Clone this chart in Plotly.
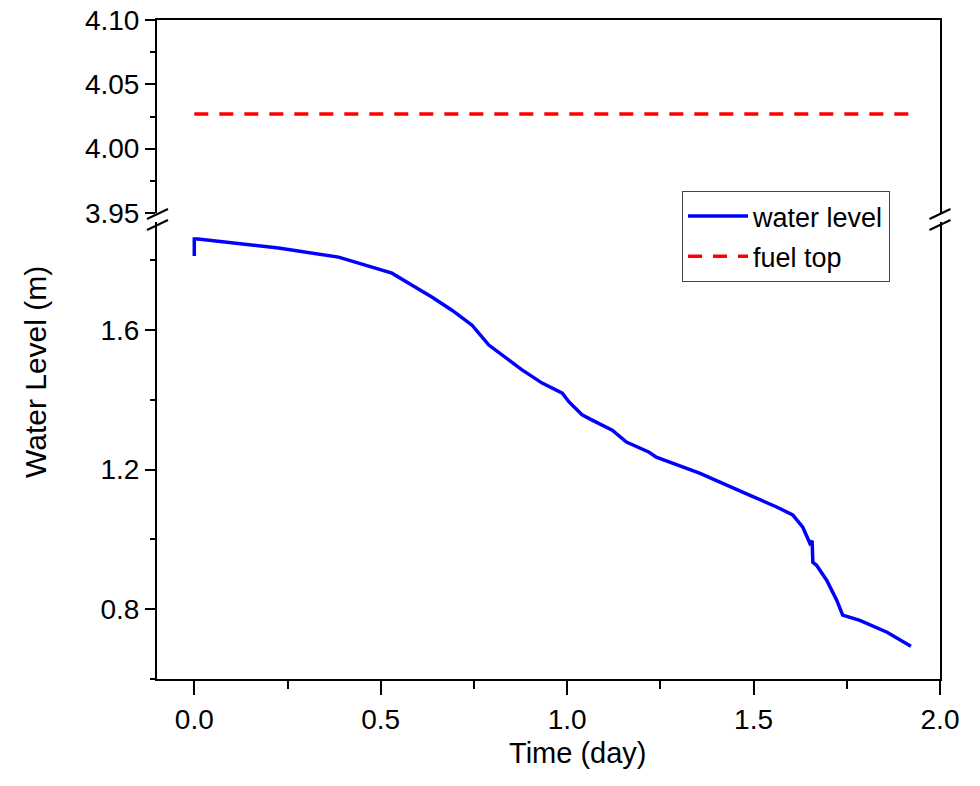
import plotly.graph_objects as go

# ---- data ----
time_day = [0.0, 0.0, 0.01, 0.226, 0.387, 0.476, 0.530, 0.583, 0.637, 0.691, 0.745,
            0.790, 0.879, 0.933, 0.987, 1.005, 1.040, 1.067, 1.121, 1.159, 1.220,
            1.239, 1.355, 1.489, 1.562, 1.605, 1.632, 1.651, 1.657, 1.659, 1.669,
            1.696, 1.723, 1.739, 1.785, 1.858, 1.922]
water_level = [1.812, 1.861, 1.861, 1.835, 1.809, 1.781, 1.763, 1.729, 1.695, 1.657, 1.614,
               1.557, 1.486, 1.448, 1.419, 1.394, 1.357, 1.342, 1.313, 1.279, 1.250,
               1.236, 1.190, 1.127, 1.093, 1.070, 1.035, 0.989, 0.996, 0.934, 0.926,
               0.883, 0.826, 0.783, 0.768, 0.734, 0.694]
fuel_time = [0.0, 1.925]
fuel_top = [4.027, 4.027]

x_range = [-0.1, 2.0]
y_low_range = [0.6, 1.9097]
y_high_range = [3.95, 4.10]

# ---- layout geometry (page pixels; body margin removed in the page) ----
W, H = 980, 786
PL, PR, PT, PB = 157, 940, 20, 679          # plot area edges
L, T, R, B = PL, PT, W - PR, H - PB
pw, ph = PR - PL, PB - PT
def px(xp):
    return (xp - PL) / pw
def py(yp):
    return (PB - yp) / ph

FONT = "Liberation Sans, Arial, sans-serif"

fig = go.Figure()
fig.add_trace(go.Scatter(x=time_day, y=water_level, mode="lines", name="water level",
                         legendgroup="a",
                         line=dict(color="#0000ff", width=3.5), xaxis="x", yaxis="y"))
fig.add_trace(go.Scatter(x=fuel_time, y=fuel_top, mode="lines", name="fuel top",
                         legendgroup="b",
                         line=dict(color="#ff0000", width=3.5, dash="14px,11px"),
                         xaxis="x2", yaxis="y2"))

axis_common = dict(showgrid=False, zeroline=False, showline=True, linecolor="black",
                   linewidth=2, tickcolor="black", tickwidth=2, automargin=False,
                   ticklabeloverflow="allow",
                   tickfont=dict(family=FONT, size=28, color="black"))

fig.update_layout(
    width=W, height=H,
    margin=dict(l=L, r=R, t=T, b=B, pad=0, autoexpand=False),
    paper_bgcolor="white", plot_bgcolor="white",
    showlegend=True,
    legend=dict(x=px(682), y=py(191), xanchor="left", yanchor="top",
                bgcolor="white", bordercolor="#444444", borderwidth=1,
                font=dict(family=FONT, size=27, color="black"),
                itemwidth=60, tracegroupgap=2),
    xaxis=dict(domain=[0, 1], anchor="y", range=x_range, dtick=0.5, tick0=0,
               tickformat=".1f", ticks="outside", ticklen=14,
               minor=dict(dtick=0.25, tick0=0, ticks="outside", ticklen=8,
                          tickwidth=2, tickcolor="black"),
               **axis_common),
    xaxis2=dict(domain=[0, 1], anchor="y2", matches="x", range=x_range, side="top",
                showticklabels=False, ticks="", showgrid=False, zeroline=False,
                showline=True, linecolor="black", linewidth=2, automargin=False),
    yaxis=dict(domain=[0, py(222)], anchor="x", range=y_low_range, tick0=0.4,
               dtick=0.4, tickformat=".1f", ticks="outside", ticklen=10,
               minor=dict(dtick=0.2, tick0=0.4, ticks="outside", ticklen=5,
                          tickwidth=2, tickcolor="black"),
               mirror=True, **axis_common),
    yaxis2=dict(domain=[py(213), 1], anchor="x2", range=y_high_range, tick0=3.95,
                dtick=0.05, tickformat=".2f", ticks="outside", ticklen=10,
                minor=dict(dtick=0.025, tick0=3.95, ticks="outside", ticklen=5,
                           tickwidth=2, tickcolor="black"),
                mirror=True, **axis_common),
)

# axis titles
fig.add_annotation(text="Water Level (m)", xref="paper", yref="paper",
                   x=px(35), y=py(372), xanchor="center", yanchor="middle",
                   textangle=-90, showarrow=False,
                   font=dict(family=FONT, size=30, color="black"))
fig.add_annotation(text="Time (day)", xref="paper", yref="paper",
                   x=px(578), y=py(753), xanchor="center", yanchor="middle",
                   showarrow=False, font=dict(family=FONT, size=29, color="black"))

# axis break marks
for xc in (157.5, 940):
    for (y1, y2) in ((219, 209), (230, 220)):
        fig.add_shape(type="line", xref="paper", yref="paper",
                      x0=px(xc - 10.5), y0=py(y1), x1=px(xc + 10.5), y1=py(y2),
                      line=dict(color="black", width=2), layer="above")

fig.write_html("out.html", config={"displayModeBar": False},
               post_script="document.body.style.margin='0px';document.body.style.overflow='hidden';")
